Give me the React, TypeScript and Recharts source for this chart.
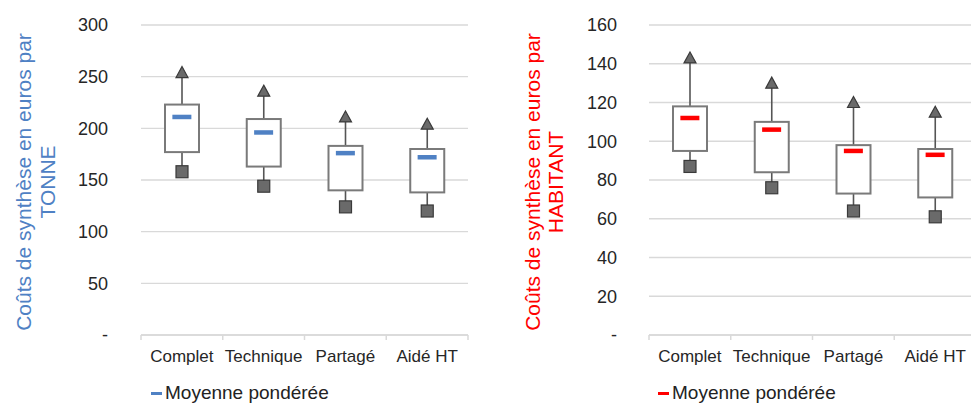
import React from 'react';
import { ComposedChart, Bar, Scatter, XAxis, YAxis, CartesianGrid, Legend } from 'recharts';

const categories = ['Complet', 'Technique', 'Partagé', 'Aidé HT'];

// Coûts par TONNE
const tonneMin = [158, 144, 124, 120];
const tonneQ1 = [177, 163, 140, 138];
const tonneMean = [211, 196, 176, 172];
const tonneQ3 = [223, 209, 183, 180];
const tonneMax = [254, 236, 211, 204];
const tonneTicks = [0, 50, 100, 150, 200, 250, 300];

// Coûts par HABITANT
const habMin = [87, 76, 64, 61];
const habQ1 = [95, 84, 73, 71];
const habMean = [112, 106, 95, 93];
const habQ3 = [118, 110, 98, 96];
const habMax = [143, 130, 120, 115];
const habTicks = [0, 20, 40, 60, 80, 100, 120, 140, 160];

const legendLabel = 'Moyenne pondérée';

const FONT = '"Liberation Sans", Arial, sans-serif';

const build = (mn: number[], q1: number[], mean: number[], q3: number[], mx: number[]) =>
  categories.map((c, i) => ({ cat: c, min: mn[i], q1: q1[i], mean: mean[i], q3: q3[i], max: mx[i] }));

const tonneData = build(tonneMin, tonneQ1, tonneMean, tonneQ3, tonneMax);
const habData = build(habMin, habQ1, habMean, habQ3, habMax);

const BoxShape = (props: any) => {
  const { x, y, width, height, payload } = props;
  if (!payload) return null;
  const top = Math.min(y, y + height);
  const bottom = Math.max(y, y + height);
  const span = payload.max - payload.min;
  const yOf = (v: number) => bottom - ((v - payload.min) * (bottom - top)) / span;
  const cx = x + width / 2;
  const yMax = yOf(payload.max);
  const yMin = yOf(payload.min);
  const yQ3 = yOf(payload.q3);
  const yQ1 = yOf(payload.q1);
  const tri = `${cx},${yMax - 6} ${cx + 6},${yMax + 5} ${cx - 6},${yMax + 5}`;
  return (
    <g>
      <line x1={cx} x2={cx} y1={yMax} y2={yQ3} stroke="#555" strokeWidth={1.6} />
      <line x1={cx} x2={cx} y1={yQ1} y2={yMin} stroke="#555" strokeWidth={1.6} />
      <rect x={cx - width / 2} y={yQ3} width={width} height={yQ1 - yQ3} fill="#fff" stroke="#7a7a7a" strokeWidth={2} />
      <polygon points={tri} fill="#6a6a6a" stroke="#3a3a3a" strokeWidth={1.2} />
      <rect x={cx - 6} y={yMin - 6} width={12} height={12} fill="#6a6a6a" stroke="#3a3a3a" strokeWidth={1.2} />
    </g>
  );
};

const makeMeanShape = (color: string) => (props: any) => {
  const { cx, cy } = props;
  if (cx == null || cy == null) return null;
  return <rect x={cx - 9.5} y={cy - 2.25} width={19} height={4.5} fill={color} />;
};

const CatTick = (props: any) => {
  const { x, y, payload, index, width, visibleTicksCount } = props;
  const band = width && visibleTicksCount ? width / visibleTicksCount : 82;
  return (
    <g>
      <line x1={x - band / 2} x2={x - band / 2} y1={y} y2={y + 5} stroke="#d9d9d9" strokeWidth={1.5} />
      {index === visibleTicksCount - 1 ? (
        <line x1={x + band / 2} x2={x + band / 2} y1={y} y2={y + 5} stroke="#d9d9d9" strokeWidth={1.5} />
      ) : null}
      <text x={x} y={y + 27} textAnchor="middle" fontSize={17} fontFamily={FONT} fill="#262626">
        {payload.value}
      </text>
    </g>
  );
};

const makeTitle = (line1: string, line2: string, x1: number, x2: number, color: string) => () => (
  <g>
    <text x={x1} y={182} transform={`rotate(-90, ${x1}, 182)`} textAnchor="middle" dominantBaseline="central" fontSize={21} fontFamily={FONT} fill={color}>
      {line1}
    </text>
    <text x={x2} y={182} transform={`rotate(-90, ${x2}, 182)`} textAnchor="middle" dominantBaseline="central" fontSize={21} fontFamily={FONT} fill={color}>
      {line2}
    </text>
  </g>
);

const makeLegend = (color: string) => () => (
  <div style={{ fontFamily: FONT, fontSize: 19, lineHeight: '20px', color: '#222', whiteSpace: 'nowrap', display: 'flex', alignItems: 'center' }}>
    <span style={{ display: 'inline-block', width: 11, height: 3, background: color, marginRight: 3 }} />
    <span>{legendLabel}</span>
  </div>
);

type PanelProps = {
  data: any[];
  ticks: number[];
  domainMax: number;
  yAxisWidth: number;
  tickMargin: number;
  rightMargin: number;
  color: string;
  titleLine1: string;
  titleLine2: string;
  titleX1: number;
  titleX2: number;
  legendLeft: number;
};

const Panel = (p: PanelProps) => (
  <ComposedChart width={490} height={403} data={p.data} margin={{ top: 25, right: p.rightMargin, bottom: 28, left: 0 }}>
    <CartesianGrid vertical={false} stroke="#d9d9d9" strokeWidth={1.4} />
    <XAxis
      dataKey="cat"
      type="category"
      height={40}
      axisLine={{ stroke: '#d9d9d9', strokeWidth: 1.5 }}
      tickLine={false}
      tickSize={0}
      tickMargin={0}
      tick={<CatTick />}
      interval={0}
    />
    <YAxis
      type="number"
      domain={[0, p.domainMax]}
      ticks={p.ticks}
      width={p.yAxisWidth}
      axisLine={false}
      tickLine={false}
      tickSize={0}
      tickMargin={p.tickMargin}
      tickFormatter={(v: number) => (v === 0 ? '-' : String(v))}
      tick={{ fontSize: 18, fontFamily: FONT, fill: '#262626' }}
      label={{ content: makeTitle(p.titleLine1, p.titleLine2, p.titleX1, p.titleX2, p.color) as any }}
    />
    <Bar dataKey={(d: any) => [d.min, d.max]} barSize={34} shape={<BoxShape />} isAnimationActive={false} legendType="none" />
    <Scatter dataKey="mean" name={legendLabel} fill={p.color} shape={makeMeanShape(p.color)} isAnimationActive={false} />
    <Legend
      layout="vertical"
      align="center"
      verticalAlign="middle"
      content={makeLegend(p.color)}
      wrapperStyle={{ left: p.legendLeft, top: 383, width: 'auto' }}
    />
  </ComposedChart>
);

export default function App() {
  return (
    <div style={{ position: 'absolute', left: 0, top: 0, width: 971, height: 403, overflow: 'hidden', background: '#fff' }}>
      <div style={{ position: 'absolute', left: 0, top: 0 }}>
        <Panel
          data={tonneData}
          ticks={tonneTicks}
          domainMax={300}
          yAxisWidth={141}
          tickMargin={33}
          rightMargin={22}
          color="#4F81C4"
          titleLine1="Coûts de synthèse en euros par"
          titleLine2="TONNE"
          titleX1={23}
          titleX2={47}
          legendLeft={151}
        />
      </div>
      <div style={{ position: 'absolute', left: 490, top: 0 }}>
        <Panel
          data={habData}
          ticks={habTicks}
          domainMax={160}
          yAxisWidth={159}
          tickMargin={32}
          rightMargin={4}
          color="#FF0000"
          titleLine1="Coûts de synthèse en euros par"
          titleLine2="HABITANT"
          titleX1={42}
          titleX2={65}
          legendLeft={168}
        />
      </div>
    </div>
  );
}
